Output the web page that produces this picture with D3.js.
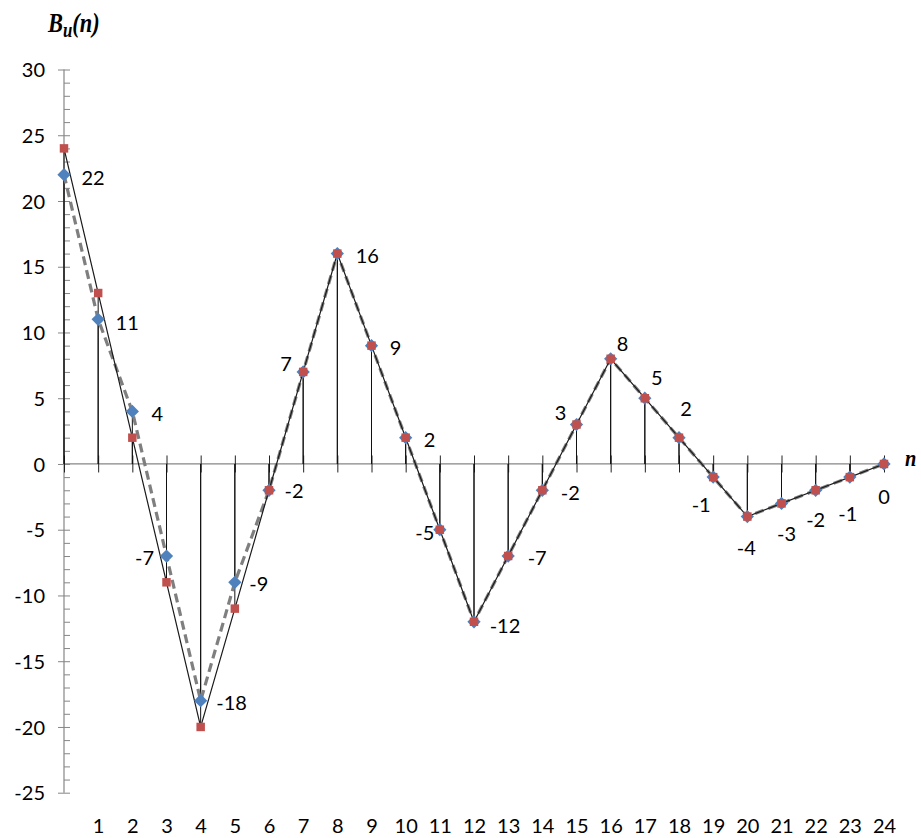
<!DOCTYPE html>
<html>
<head>
<meta charset="utf-8">
<script src="https://cdn.jsdelivr.net/npm/d3@7"></script>
<style>
  html, body { margin: 0; padding: 0; background: #fff; }
  svg { display: block; }
  .num { font-family: Lato, "Open Sans", sans-serif; font-size: 20px; fill: #000; }
</style>
</head>
<body>
<svg id="chart" width="921" height="838"></svg>
<script>
// ---- data ----
const nValues = [0,1,2,3,4,5,6,7,8,9,10,11,12,13,14,15,16,17,18,19,20,21,22,23,24];
const xTickLabels = ["","1","2","3","4","5","6","7","8","9","10","11","12","13","14","15","16","17","18","19","20","21","22","23","24"];
const yTickValues = [-25,-20,-15,-10,-5,0,5,10,15,20,25,30];
const yMinorValues = [-25,-24,-23,-22,-21,-20,-19,-18,-17,-16,-15,-14,-13,-12,-11,-10,-9,-8,-7,-6,-5,-4,-3,-2,-1,0,1,2,3,4,5,6,7,8,9,10,11,12,13,14,15,16,17,18,19,20,21,22,23,24,25,26,27,28,29,30];
// series drawn with red squares + thin solid line
const squareSeries = [24,13,2,-9,-20,-11,-2,7,16,9,2,-5,-12,-7,-2,3,8,5,2,-1,-4,-3,-2,-1,0];
// series drawn with blue diamonds + grey dashed line (values are labelled)
const diamondSeries = [22,11,4,-7,-18,-9,-2,7,16,9,2,-5,-12,-7,-2,3,8,5,2,-1,-4,-3,-2,-1,0];

// ---- label placement (style: offset of label centre from its point, px) ----
const labelNudge = [
  [29,3],[29,3],[25,2],[-22,2],[31,2],[24,1],[25,1],[-17,-8],[30,2],[24,2],[24,2],[-15,3],[31,4],
  [29,2],[28,3],[-16,-12],[12,-15],[12,-20],[7,-29],[-12,28],[-1,31],[5,30],[0,30],[-2,37],[0,33]
];

const svg = d3.select("#chart");
const x = d3.scaleLinear().domain([0, 24]).range([64, 884]);
const y = d3.scaleLinear().domain([-25, 30]).range([792.7, 69.5]);
const axisGrey = "#868686";
const fmt = d => String(d);

// ---- y axis ----
const gy = svg.append("g").attr("transform", `translate(${x(0)},0)`);
gy.append("g").call(d3.axisRight(y).tickValues(yMinorValues).tickSize(6).tickFormat(""))
  .call(g => g.select(".domain").remove())
  .selectAll("line").attr("stroke", axisGrey);
gy.append("g").call(d3.axisLeft(y).tickValues(yTickValues).tickSize(6).tickPadding(13).tickFormat(fmt))
  .call(g => g.select(".domain").remove())
  .call(g => g.selectAll("line").attr("stroke", axisGrey))
  .call(g => g.selectAll("text").attr("class", "num").attr("dy", "0.36em").attr("fill", "#000"));
gy.append("line").attr("x1", 0).attr("x2", 0).attr("y1", y(30)).attr("y2", y(-25))
  .attr("stroke", axisGrey).attr("stroke-width", 1.2);

// ---- x axis ----
const gx = svg.append("g").attr("transform", `translate(0,${y(0)})`);
gx.append("line").attr("x1", x(0)).attr("x2", 890).attr("y1", 0).attr("y2", 0)
  .attr("stroke", axisGrey).attr("stroke-width", 1.2);
gx.append("g").call(d3.axisTop(x).tickValues(nValues).tickSize(8.5).tickFormat(""))
  .call(g => g.select(".domain").remove())
  .selectAll("line").attr("stroke", "#222");
gx.append("g").call(d3.axisBottom(x).tickValues(nValues).tickSize(8.5).tickFormat((d, i) => xTickLabels[i]))
  .call(g => g.select(".domain").remove())
  .call(g => g.selectAll("line").attr("stroke", "#222"))
  .call(g => g.selectAll("text").attr("class", "num").attr("y", y(-25) - y(0) + 40).attr("dy", 0).attr("fill", "#000"));

// ---- drop lines for both series ----
[squareSeries, diamondSeries].forEach(series => {
  svg.append("g").selectAll("line").data(series).join("line")
    .attr("x1", (d, i) => x(nValues[i])).attr("x2", (d, i) => x(nValues[i]))
    .attr("y1", d => y(d)).attr("y2", y(0))
    .attr("stroke", "#111").attr("stroke-width", 1);
});

// ---- lines ----
const lineGen = series => d3.line().x((d, i) => x(nValues[i])).y(d => y(d))(series);
svg.append("path").attr("d", lineGen(diamondSeries))
  .attr("fill", "none").attr("stroke", "#7f7f7f").attr("stroke-width", 3.2)
  .attr("stroke-dasharray", "9,5");
svg.append("path").attr("d", lineGen(squareSeries))
  .attr("fill", "none").attr("stroke", "#1a1a1a").attr("stroke-width", 1.2);

// ---- markers ----
svg.append("g").selectAll("path").data(diamondSeries).join("path")
  .attr("d", d3.symbol().type(d3.symbolSquare).size(88))
  .attr("transform", (d, i) => `translate(${x(nValues[i])},${y(d)}) rotate(45)`)
  .attr("fill", "#4F81BD");
svg.append("g").selectAll("path").data(squareSeries).join("path")
  .attr("d", d3.symbol().type(d3.symbolSquare).size(72))
  .attr("transform", (d, i) => `translate(${x(nValues[i])},${y(d)})`)
  .attr("fill", "#C0504D");

// ---- data labels ----
svg.append("g").selectAll("text").data(diamondSeries).join("text")
  .attr("class", "num")
  .attr("text-anchor", "middle")
  .attr("dy", "0.36em")
  .attr("x", (d, i) => x(nValues[i]) + labelNudge[i][0])
  .attr("y", (d, i) => y(d) + labelNudge[i][1])
  .text(fmt);

// ---- axis titles ----
const title = svg.append("text")
  .attr("transform", "translate(48,32) scale(0.8,1)")
  .attr("font-family", "'Liberation Serif', 'DejaVu Serif', serif")
  .attr("font-weight", "bold").attr("font-style", "italic")
  .attr("font-size", 28).attr("fill", "#000");
title.append("tspan").text("B");
title.append("tspan").attr("font-size", 21).attr("dy", 5).text("u");
title.append("tspan").attr("dy", -5).text("(n)");

svg.append("text")
  .attr("transform", "translate(905,466) scale(0.85,1)")
  .attr("font-family", "'Liberation Serif', 'DejaVu Serif', serif")
  .attr("font-weight", "bold").attr("font-style", "italic")
  .attr("font-size", 24).attr("fill", "#000")
  .text("n");
</script>
</body>
</html>
